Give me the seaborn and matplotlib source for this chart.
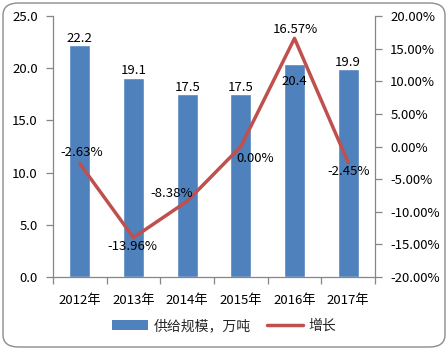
import matplotlib
matplotlib.use("Agg")
import matplotlib.pyplot as plt
import seaborn as sns
import pandas as pd
from matplotlib.patches import FancyBboxPatch
from matplotlib.lines import Line2D
from matplotlib.patches import Patch
from matplotlib.ticker import FuncFormatter, MultipleLocator

years = ["2012年", "2013年", "2014年", "2015年", "2016年", "2017年"]
supply = [22.2, 19.1, 17.5, 17.5, 20.4, 19.9]
growth = [-2.63, -13.96, -8.38, 0.00, 16.57, -2.45]

sns.set_theme(style="white")
plt.rcParams['font.family'] = ['Noto Sans CJK SC', 'DejaVu Sans']
plt.rcParams['font.size'] = 9

bar_color = "#4F81BD"
line_color = "#C0504D"

df = pd.DataFrame({"year": years, "supply": supply, "growth": growth})

fig = plt.figure(figsize=(4.48, 3.5), dpi=100)
ax = fig.add_axes([53 / 448, 1 - 277 / 350, 322 / 448, 261 / 350])

sns.barplot(data=df, x="year", y="supply", color=bar_color, width=0.39,
            saturation=1, ax=ax)
ax.set_ylim(0, 25)
ax.yaxis.set_major_locator(MultipleLocator(5))
ax.yaxis.set_major_formatter(FuncFormatter(lambda v, p: f"{v:.1f}"))
ax.set_xlim(-0.5, len(years) - 0.5)
ax.set_xlabel("")
ax.set_ylabel("")

ax2 = ax.twinx()
sns.lineplot(x=list(range(len(years))), y=growth, color=line_color, lw=2.5,
             ax=ax2, legend=False)
ax2.set_ylim(-20, 20)
ax2.yaxis.set_major_locator(MultipleLocator(5))
ax2.yaxis.set_major_formatter(FuncFormatter(lambda v, p: f"{v:.2f}%"))
ax2.set_xlim(-0.5, len(years) - 0.5)

spine_color = "#868686"
for a in (ax, ax2):
    for s in a.spines.values():
        s.set_visible(False)
ax.spines["left"].set_visible(True)
ax.spines["bottom"].set_visible(True)
ax2.spines["right"].set_visible(True)
for a, side in ((ax, "left"), (ax, "bottom"), (ax2, "right")):
    a.spines[side].set_color(spine_color)
    a.spines[side].set_linewidth(0.9)

ax.tick_params(axis="y", left=True, length=5, width=0.9, color=spine_color,
               direction="out", pad=6, labelsize=9.5, labelcolor="black")
ax2.tick_params(axis="y", right=True, length=5, width=0.9, color=spine_color,
                direction="out", pad=6, labelsize=9.5, labelcolor="black")
# category ticks sit on the boundaries between years
ax.set_xticks(range(len(years)))
ax.set_xticklabels(years)
ax.set_xticks([i - 0.5 for i in range(len(years) + 1)], minor=True)
ax.tick_params(axis="x", which="major", bottom=False, pad=6, labelsize=9.5,
               labelcolor="black")
ax.tick_params(axis="x", which="minor", bottom=True, length=5, width=0.9,
               color=spine_color, direction="out")

# bar value labels
bar_offsets = [0.5, 0.5, 0.5, 0.5, -17, 0.5]
for i, v in enumerate(supply):
    ax.annotate(f"{v:.1f}", (i, v), xytext=(0, bar_offsets[i]),
                textcoords="offset points", ha="center", va="bottom",
                fontsize=9.5, color="black")

# growth labels
label_offsets = [(1, 3), (-1, -2), (-11, 1), (10, -4), (1, 2), (0, -2)]
label_va = ["bottom", "top", "bottom", "top", "bottom", "top"]
for i, v in enumerate(growth):
    dx, dy = label_offsets[i]
    ax2.annotate(f"{v:.2f}%", (i, v), xytext=(dx, dy),
                 textcoords="offset points", ha="center", va=label_va[i],
                 fontsize=9.5, color="black")

handles = [Patch(facecolor=bar_color, edgecolor="none"),
           Line2D([0], [0], color=line_color, lw=2.5)]
fig.legend(handles, ["供给规模，万吨", "增长"], loc="center",
           bbox_to_anchor=(0.5, 1 - 326 / 350), ncol=2, frameon=False,
           fontsize=10, handlelength=2.6, handleheight=0.8, columnspacing=1.2,
           handletextpad=0.4)

border = FancyBboxPatch((3 / 448, 3 / 350), 442 / 448, 344 / 350,
                        boxstyle="round,pad=0,rounding_size=0.035",
                        transform=fig.transFigure, facecolor="none",
                        edgecolor="#8C8C8C", linewidth=1.0)
fig.patches.append(border)

fig.savefig("out.png", dpi=100)
